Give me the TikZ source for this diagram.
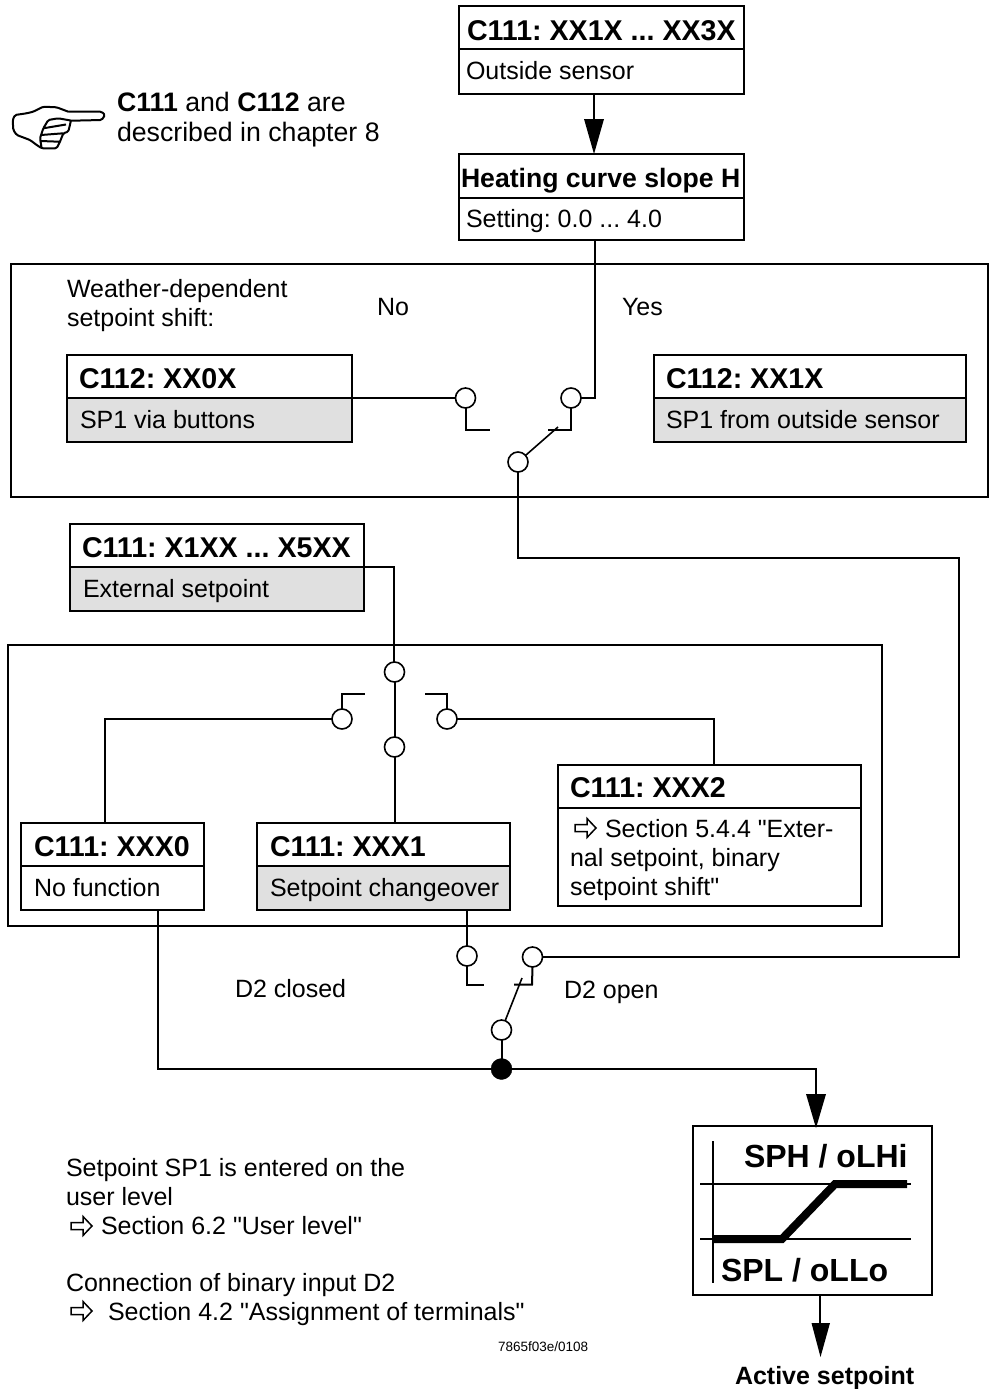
\documentclass[tikz,border=0pt]{standalone}
\usepackage{fontspec}
\setmainfont{Liberation Sans}
\newfontfamily\rawf{Liberation Sans}
\frenchspacing
\newcommand{\qq}{{\rawf\char34 }}
\tikzset{
  every node/.style={inner sep=0pt,outer sep=0pt},
  wire/.style={line width=2pt},
  thin wire/.style={line width=1.6pt},
  frame/.style={draw=black,line width=1.5pt,rectangle},
  boxn/.style={draw=black,line width=2pt,rectangle,fill=white},
  graypart/.style={draw=black,line width=2pt,fill=black!12,rectangle},
  contact/.style={draw=black,line width=1.6pt,fill=white,circle,minimum size=20pt},
  dotn/.style={draw=black,fill=black,circle,minimum size=21pt},
  head/.style={anchor=base west,font=\fontsize{28.6}{32}\selectfont\bfseries},
  body/.style={anchor=base west,font=\fontsize{25}{29}\selectfont},
  note/.style={anchor=base west,font=\fontsize{26.7}{31}\selectfont},
  bhead/.style={anchor=base west,font=\fontsize{32}{36}\selectfont\bfseries},
  openarrow/.style={draw=black,line width=1.5pt,fill=white,line join=miter},
}
\newcommand{\tbox}[6]{% name, x1, y1, x2, y2, divider y
  \node[boxn,minimum width=#4-#2,minimum height=#5-#3] (#1) at ({(#2+#4)/2},{(#3+#5)/2}) {};
  \coordinate (#1d) at (#2,#6);
  \draw[line width=2pt] (#2,#6) -- (#4,#6);
}
\newcommand{\gbox}[6]{% gray lower part
  \node[boxn,minimum width=#4-#2,minimum height=#5-#3] (#1) at ({(#2+#4)/2},{(#3+#5)/2}) {};
  \node[graypart,minimum width=#4-#2,minimum height=#5-#6] (#1g) at ({(#2+#4)/2},{(#6+#5)/2}) {};
}
\newcommand{\warr}[2]{% left x, centre y
  \draw[openarrow,shift={(#1,#2)}] (0,-3.5) -- (12,-3.5) -- (12,-9.5) -- (21,0) -- (12,9.5) -- (12,3.5) -- (0,3.5) -- cycle;
}
\begin{document}
\begin{tikzpicture}[x=1pt,y=-1pt]
\useasboundingbox (0,0) rectangle (989,1389);
\fill[white] (0,0) rectangle (989,1389);
% frames
\node[frame,minimum width=977pt,minimum height=233pt] (f1) at (499.5,380.5) {};
\node[frame,minimum width=874pt,minimum height=281pt] (f2) at (445,785.5) {};
% boxes
\tbox{b1}{459}{6}{744}{94}{49}
\tbox{b2}{459}{154}{744}{240}{198}
\gbox{c0}{67}{355}{352}{442}{398}
\gbox{c1}{654}{355}{966}{442}{398}
\gbox{ext}{70}{524}{364}{611}{567}
\tbox{x0}{21}{823}{204}{910}{866}
\gbox{x1}{257}{823}{510}{910}{866}
\tbox{x2}{558}{765}{861}{906}{808}
\node[boxn,minimum width=239pt,minimum height=169pt] (sp) at (812.5,1210.5) {};
% box text
\node[head] (t1) at (467,41) {C111: XX1X ... XX3X};
\node[body] (t2) at (466,80) {Outside sensor};
\node[head,font=\fontsize{26.6}{31}\selectfont\bfseries] (t3) at (461,187) {Heating curve slope H};
\node[body] (t4) at (466,227) {Setting: 0.0 ... 4.0};
\node[head] (t5) at (79,388) {C112: XX0X};
\node[body] (t6) at (80,428) {SP1 via buttons};
\node[head] (t7) at (666,388) {C112: XX1X};
\node[body] (t8) at (666,428) {SP1 from outside sensor};
\node[head] (t9) at (82,557) {C111: X1XX ... X5XX};
\node[body] (t10) at (83,597) {External setpoint};
\node[head] (t11) at (34,856) {C111: XXX0};
\node[body] (t12) at (34,896) {No function};
\node[head] (t13) at (270,856) {C111: XXX1};
\node[body] (t14) at (270,896) {Setpoint changeover};
\node[head] (t15) at (570,797) {C111: XXX2};
\warr{575}{828}
\node[body] (t16) at (605,837) {Section 5.4.4 \qq Exter-};
\node[body] (t17) at (570,866) {nal setpoint, binary};
\node[body] (t18) at (570,895) {setpoint shift\qq};
% free text
\node[note] (n1) at (117,111) {\textbf{C111} and \textbf{C112} are};
\node[note] (n2) at (117,141) {described in chapter 8};
\node[body] (n3) at (67,297) {Weather-dependent};
\node[body] (n4) at (67,326) {setpoint shift:};
\node[body] (n5) at (377,315) {No};
\node[body] (n6) at (622,315) {Yes};
\node[body] (n7) at (235,997) {D2 closed};
\node[body] (n8) at (564,998) {D2 open};
\node[body] (n9) at (66,1176) {Setpoint SP1 is entered on the};
\node[body] (n10) at (66,1205) {user level};
\warr{71}{1226}
\node[body] (n11) at (101,1234) {Section 6.2 \qq User level\qq};
\node[body] (n12) at (66,1291) {Connection of binary input D2};
\warr{71}{1311}
\node[body] (n13) at (108,1320) {Section 4.2 \qq Assignment of terminals\qq};
\node[anchor=base west,font=\fontsize{13.5}{16}\selectfont] (n14) at (498,1351) {7865f03e/0108};
\node[anchor=base west,font=\fontsize{25}{29}\selectfont\bfseries] (n15) at (735,1384) {Active setpoint};
% switch 1
\node[contact] (s1l) at (465.5,398) {};
\node[contact] (s1r) at (571,398) {};
\node[contact] (s1c) at (518,462) {};
\coordinate (s1la) at (465.5,430);
\coordinate (s1lb) at (490,430);
\coordinate (s1ra) at (571,430);
\coordinate (s1rb) at (548,430);
\coordinate (s1arm) at (558,427);
\coordinate (r1) at (595,398);
\coordinate (r2) at (595,240);
\coordinate (q1) at (518,558);
\coordinate (q2) at (959,558);
\coordinate (q3) at (959,957);
\draw[wire] (352,398) -- (s1l.west);
\draw[wire] (s1l.south) -- (s1la) -- (s1lb);
\draw[wire] (s1r.south) -- (s1ra) -- (s1rb);
\draw[thin wire] (s1c) -- (s1arm);
\draw[wire] (s1r.east) -- (r1) -- (r2);
\draw[wire] (s1c.south) -- (q1) -- (q2) -- (q3) -- (542,957);
% switch 2
\coordinate (e1) at (394,567);
\node[contact] (s2t) at (394.5,672) {};
\node[contact] (s2b) at (394.5,747) {};
\node[contact] (s2l) at (342,719) {};
\node[contact] (s2r) at (447,719) {};
\draw[wire] (364,567) -- (e1) -- (394,662);
\draw[wire] (s2t.south) -- (s2b.north);
\draw[wire] (s2b.south) -- (394.5,823);
\draw[wire] (s2l.north) -- (342,694) -- (365,694);
\draw[wire] (s2r.north) -- (447,694) -- (425,694);
\draw[wire] (s2l.west) -- (105,719) -- (105,823);
\draw[wire] (s2r.east) -- (714,719) -- (714,765);
% switch 3
\node[contact] (s3l) at (467,956) {};
\node[contact] (s3r) at (532.5,957) {};
\node[contact] (s3c) at (501.5,1030) {};
\node[dotn] (dot) at (501.5,1069) {};
\draw[wire] (467,910) -- (s3l.north);
\draw[wire] (s3l.south) -- (467,984.5) -- (484,984.5);
\draw[wire] (s3r.south) -- (532,984.5) -- (514,984.5);
\draw[thin wire] (s3c) -- (522,978);
\draw[wire] (s3c.south) -- (dot);
\draw[wire] (158,910) -- (158,1069) -- (dot) -- (816,1069) -- (816,1100);
\fill (806,1094) -- (826,1094) -- (816,1128) -- cycle;
\draw[wire] (820,1295) -- (820,1330);
\fill (811.5,1323) -- (830,1323) -- (820.5,1357) -- cycle;
% b1->b2 arrow
\draw[wire] (594,94) -- (594,125);
\fill (584,119) -- (604,119) -- (594,154) -- cycle;
% limiter
\draw[line width=1.6pt] (713,1141) -- (713,1283);
\draw[line width=1.6pt] (700,1184) -- (911,1184);
\draw[line width=1.6pt] (700,1239) -- (911,1239);
\draw[line width=8pt] (713,1239) -- (782,1239) -- (835,1184) -- (907,1184);
\node[bhead] (h1) at (744,1167) {SPH / oLHi};
\node[bhead] (h2) at (721,1281) {SPL / oLLo};
% hand
\draw[line width=2pt,line join=round,rounded corners=1.5pt]
  (68.3,111.7) -- (101.7,111.7) -- (105,115) -- (101.7,120) -- (71.7,120.7)
  (68.3,111.7) -- (56.7,107.3) -- (43.3,106.7) -- (33.3,111.7) -- (26.7,113.3) -- (15,115) -- (12.7,120) -- (13.3,130) -- (16.7,135) -- (30,140) -- (36.7,145) -- (41.7,148.3) -- (56.7,148.3) -- (60,141.7) -- (63.3,133.3) -- (68.3,131.7) -- (70.7,121.7)
  (71.7,120.7) -- (58.3,118.3) -- (48.3,120) -- (43.3,128.3) -- (40,138.3) -- (41.7,148.3)
  (43.3,128.3) -- (66,124.5) (41,135) -- (63.3,133.3) (40.5,141) -- (59,141.7);
\end{tikzpicture}
\end{document}
